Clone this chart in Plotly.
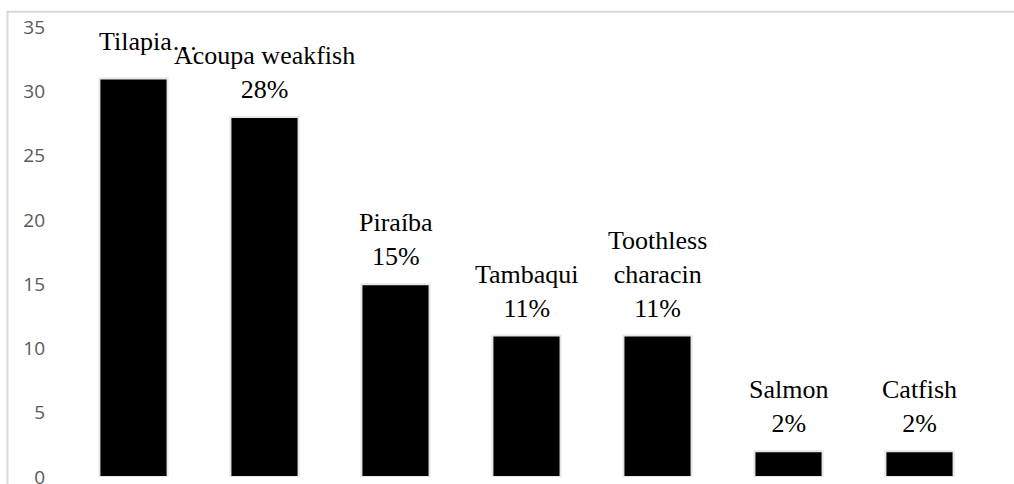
import plotly.graph_objects as go

categories = ["Tilapia", "Acoupa weakfish", "Piraíba", "Tambaqui", "Toothless characin", "Salmon", "Catfish"]
values = [31, 28, 15, 11, 11, 2, 2]
bar_labels = ["Tilapia…", "Acoupa weakfish<br>28%", "Piraíba<br>15%", "Tambaqui<br>11%",
              "Toothless<br>characin<br>11%", "Salmon<br>2%", "Catfish<br>2%"]
y_ticks = [0, 5, 10, 15, 20, 25, 30, 35]

fig = go.Figure()
fig.add_trace(go.Bar(
    x=categories, y=values,
    marker=dict(color="#000000", line=dict(color="#e6e6e6", width=2)),
    width=0.52,
    hoverinfo="skip",
))

for i, (c, v, t) in enumerate(zip(categories, values, bar_labels)):
    fig.add_annotation(
        x=c, y=v, text=t, showarrow=False,
        xanchor="center", yanchor="bottom",
        xshift=15 if i == 0 else 0,
        yshift=20 if i == 0 else 11,
        font=dict(family="Liberation Serif, Times New Roman, serif", size=26, color="#000000"),
    )

# outer chart border (light gray frame)
fig.add_shape(type="rect", xref="paper", yref="paper",
              x0=-0.066, x1=1.2, y0=-0.2, y1=1.034,
              line=dict(color="#d9d9d9", width=2), fillcolor="rgba(0,0,0,0)", layer="below")

fig.update_layout(
    width=1014, height=484,
    margin=dict(l=68, r=29, t=27, b=7),
    paper_bgcolor="white", plot_bgcolor="white",
    showlegend=False,
    bargap=0.48,
    xaxis=dict(showticklabels=False, showgrid=False, zeroline=False, showline=False, ticks="",
               automargin=False),
    yaxis=dict(range=[0, 35], tickvals=y_ticks, showgrid=False, zeroline=False, showline=False,
               tickfont=dict(family="Open Sans, DejaVu Sans, sans-serif", size=19, color="#595959"),
               ticklabelstandoff=22, ticklabeloverflow="allow", automargin=False),
)

fig.write_html("out.html")
